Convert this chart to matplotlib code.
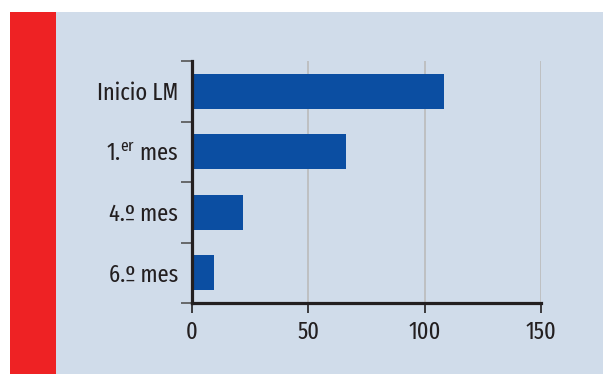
#Horizontal bar chart: Inicio LM / 1.er mes / 4.º mes / 6.º mes
import matplotlib
matplotlib.use('Agg')
import matplotlib.pyplot as plt
from matplotlib.patches import Rectangle
import numpy as np

#Data
categorias = ['Inicio LM', '1.$^{\\mathrm{er}}$ mes', '4.º mes', '6.º mes']
valores = [108.5, 66, 22, 9.5]
xticks = [0, 50, 100, 150]

#Colours
fondo = '#D0DCEA'
rojo = '#EE2224'
azul = '#0B4EA2'
texto = '#231F20'

fuente = 'Fira Sans Extra Condensed'
plt.rcParams['font.family'] = [fuente, 'DejaVu Sans']
plt.rcParams['mathtext.fontset'] = 'custom'
plt.rcParams['mathtext.rm'] = fuente

fig = plt.figure(figsize=(6.03, 3.74), dpi=100, facecolor='white')
W, H = 603., 374.
#Background panel and red strip (behind the axes)
fig.add_artist(Rectangle((56/W, 0), 1-56/W, 1-12/H, transform=fig.transFigure,
                         facecolor=fondo, edgecolor='none', zorder=-10))
fig.add_artist(Rectangle((10/W, 0), 46/W, 1-12/H, transform=fig.transFigure,
                         facecolor=rojo, edgecolor='none', zorder=-10))

ax = fig.add_axes([192/W, 1-303/H, (541-192)/W, (303-61)/H])
ax.set_facecolor('none')

y = np.arange(len(categorias))
ax.barh(y, valores, height=0.58, color=azul, zorder=3)
ax.set_ylim(len(categorias)-0.5, -0.5)
ax.set_xlim(0, 150)

#Ticks
ax.set_xticks(xticks)
ax.set_xticklabels([str(t) for t in xticks], fontsize=17.5, color=texto)
ax.set_yticks(y)
ax.set_yticklabels(categorias, fontsize=17.5, color=texto)
ax.tick_params(axis='y', which='major', length=0, pad=10)
ax.set_yticks(np.arange(-0.5, len(categorias)), minor=True)
ax.tick_params(axis='y', which='minor', length=8, width=1.2, color='#555555', direction='out')
ax.tick_params(axis='x', length=7.5, width=1.2, color=texto, pad=5)

#Grid
ax.grid(axis='x', color='#BBBBBB', linewidth=1.2, zorder=1)
ax.set_axisbelow(True)

#Spines
for s in ['top', 'right']:
    ax.spines[s].set_visible(False)
for s in ['left', 'bottom']:
    ax.spines[s].set_color(texto)
    ax.spines[s].set_linewidth(2.3)
    ax.spines[s].set_zorder(4)

fig.savefig('out.png', dpi=100, facecolor='white')
